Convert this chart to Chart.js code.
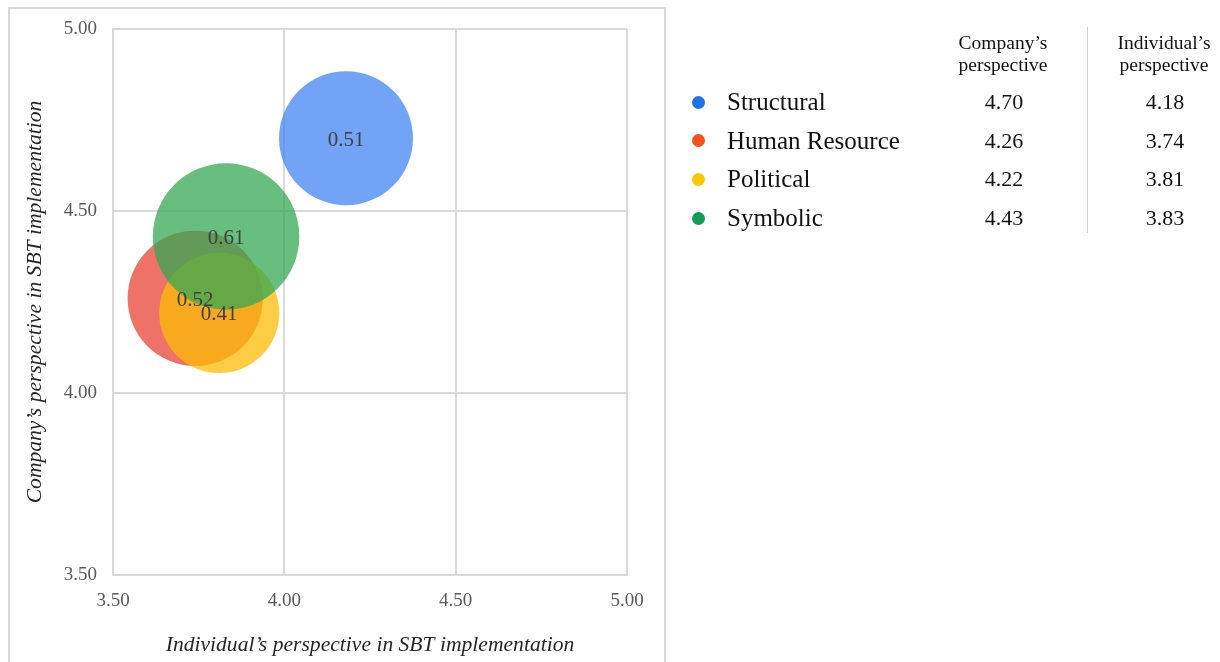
<!DOCTYPE html>
<html>
<head>
<meta charset="utf-8">
<script src="https://cdn.jsdelivr.net/npm/chart.js@4.4.1/dist/chart.umd.min.js"></script>
<style>
  html, body { margin: 0; padding: 0; background: #fff; overflow: hidden; }
  body { width: 1220px; height: 662px; position: relative; font-family: "Liberation Serif", "Times New Roman", serif; }
  #frame { position: absolute; left: 8px; top: 7px; width: 658px; height: 700px; box-sizing: border-box; border: 2px solid #d9d9d9; }
  #wrap { position: absolute; left: 0; top: 0; width: 680px; height: 662px; }
  #side { position: absolute; left: 0; top: 0; width: 1220px; height: 662px; pointer-events: none; }
  .hdr { position: absolute; width: 160px; text-align: center; font-size: 19.5px; line-height: 22px; color: #111; }
  .dot { position: absolute; width: 13px; height: 13px; border-radius: 50%; }
  .name { position: absolute; font-size: 25px; line-height: 28px; color: #111; white-space: nowrap; }
  .val { position: absolute; width: 120px; text-align: center; font-size: 22px; line-height: 28px; color: #111; }
  #divider { position: absolute; left: 1087px; top: 27px; width: 1px; height: 206px; background: #d0d0d0; }
</style>
</head>
<body>
<div id="frame"></div>
<div id="wrap"><canvas id="chart"></canvas></div>
<div id="side"><div id="divider"></div></div>
<script>
// Four frames of the SBT model
const frames = ['Structural', 'Human Resource', 'Political', 'Symbolic'];
// Company's perspective (vertical axis)
const companyScores = [4.70, 4.26, 4.22, 4.43];
// Individual's perspective (horizontal axis)
const individualScores = [4.18, 3.74, 3.81, 3.83];
// Bubble sizes shown as labels
const bubbleSizes = [0.51, 0.52, 0.41, 0.61];
// Axis ticks
const axisTicks = [3.50, 4.00, 4.50, 5.00];

const bubbleFill = ['rgba(66,133,244,0.75)', 'rgba(234,67,53,0.75)', 'rgba(251,188,4,0.75)', 'rgba(52,168,83,0.75)'];
const legendDot = ['#1a73e8', '#f4511e', '#fcc600', '#0f9d58'];

// Bubble area proportional to the size value
const RADIUS_PER_SQRT = 93.8;

const datasets = frames.map((name, i) => ({
  label: name,
  data: [{ x: individualScores[i], y: companyScores[i], r: RADIUS_PER_SQRT * Math.sqrt(bubbleSizes[i]), size: bubbleSizes[i] }],
  backgroundColor: bubbleFill[i],
  borderWidth: 0,
  hoverBorderWidth: 0,
  clip: false,
  order: -i
}));

// Writes each bubble's size in its centre
const sizeLabels = {
  id: 'sizeLabels',
  afterDatasetsDraw(chart) {
    const ctx = chart.ctx;
    ctx.save();
    ctx.font = '21px "Liberation Serif", "Times New Roman", serif';
    ctx.fillStyle = '#404040';
    ctx.textAlign = 'center';
    ctx.textBaseline = 'middle';
    chart.data.datasets.forEach((ds, i) => {
      const meta = chart.getDatasetMeta(i);
      meta.data.forEach((el, j) => {
        ctx.fillText(ds.data[j].size.toFixed(2), el.x, el.y + 2);
      });
    });
    ctx.restore();
  }
};

const tickFont = { family: '"Liberation Serif", "Times New Roman", serif', size: 19 };
const titleFont = { family: '"Liberation Serif", "Times New Roman", serif', size: 21.6, style: 'italic' };
const gridStyle = { color: '#d9d9d9', lineWidth: 2, drawTicks: false };

new Chart(document.getElementById('chart'), {
  type: 'bubble',
  data: { datasets },
  options: {
    responsive: true,
    maintainAspectRatio: false,
    animation: false,
    layout: { autoPadding: false, padding: { top: 29, right: 53, left: 0, bottom: 0 } },
    plugins: { legend: { display: false }, tooltip: { enabled: false } },
    scales: {
      x: {
        type: 'linear',
        min: axisTicks[0],
        max: axisTicks[axisTicks.length - 1],
        afterBuildTicks: s => { s.ticks = axisTicks.map(v => ({ value: v })); },
        afterFit: s => { s.height = 87; },
        grid: gridStyle,
        border: { color: '#d9d9d9', width: 2 },
        ticks: { font: tickFont, color: '#595959', padding: 15, maxRotation: 0, callback: v => Number(v).toFixed(2) },
        title: { display: true, text: 'Individual\u2019s perspective in SBT implementation', font: titleFont, color: '#262626', padding: { top: 0, bottom: 4 } }
      },
      y: {
        type: 'linear',
        min: axisTicks[0],
        max: axisTicks[axisTicks.length - 1],
        afterBuildTicks: s => { s.ticks = axisTicks.map(v => ({ value: v })); },
        afterFit: s => { s.width = 113; },
        grid: gridStyle,
        border: { color: '#d9d9d9', width: 2 },
        ticks: { font: tickFont, color: '#595959', padding: 16, callback: v => Number(v).toFixed(2) },
        title: { display: true, text: 'Company\u2019s perspective in SBT implementation', font: titleFont, color: '#262626', padding: { top: 22, bottom: 0 } }
      }
    }
  },
  plugins: [sizeLabels]
});

// Value table beside the chart
const side = document.getElementById('side');
function addEl(cls, text, style) {
  const d = document.createElement('div');
  d.className = cls;
  if (text !== null) d.textContent = text;
  Object.assign(d.style, style);
  side.appendChild(d);
  return d;
}
addEl('hdr', 'Company\u2019s', { left: '923px', top: '32px' });
addEl('hdr', 'perspective', { left: '923px', top: '54px' });
addEl('hdr', 'Individual\u2019s', { left: '1084px', top: '32px' });
addEl('hdr', 'perspective', { left: '1084px', top: '54px' });
const rowTop = 102, rowStep = 38.7;
frames.forEach((name, i) => {
  const cy = rowTop + i * rowStep;
  addEl('dot', null, { left: (698 - 6.5) + 'px', top: (cy - 6.5) + 'px', background: legendDot[i] });
  addEl('name', name, { left: '727px', top: (cy - 14) + 'px' });
  addEl('val', companyScores[i].toFixed(2), { left: (1004 - 60) + 'px', top: (cy - 14) + 'px' });
  addEl('val', individualScores[i].toFixed(2), { left: (1165 - 60) + 'px', top: (cy - 14) + 'px' });
});
</script>
</body>
</html>
